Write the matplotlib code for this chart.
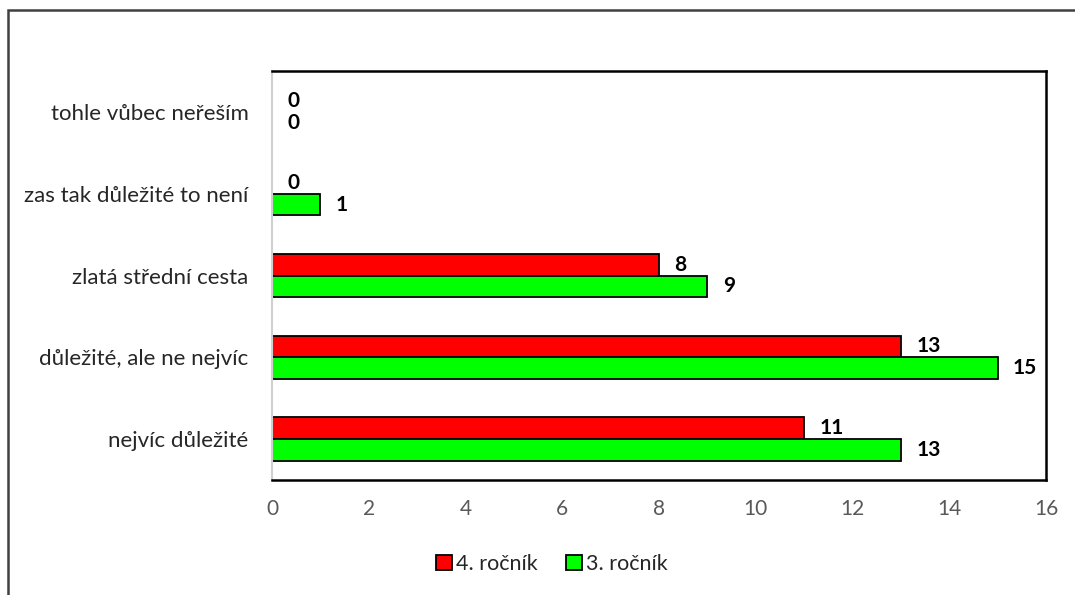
import matplotlib.pyplot as plt
from matplotlib.patches import Rectangle
import numpy as np

categories = ['nejvíc důležité', 'důležité, ale ne nejvíc', 'zlatá střední cesta',
              'zas tak důležité to není', 'tohle vůbec neřeším']
rocnik4 = [11, 13, 8, 0, 0]
rocnik3 = [13, 15, 9, 1, 0]
xticks = [0, 2, 4, 6, 8, 10, 12, 14, 16]

plt.rcParams['font.family'] = ['Lato', 'DejaVu Sans']

fig = plt.figure(figsize=(10.75, 5.95), dpi=100)
ax = fig.add_axes([272/1075, 1 - 480/595, (1046 - 272)/1075, (480 - 71)/595])

y = np.arange(len(categories))
h = 0.265
b4 = ax.barh(y + h/2, rocnik4, height=h, color='#FF0000', edgecolor='black', linewidth=1.3,
             label='4. ročník')
b3 = ax.barh(y - h/2, rocnik3, height=h, color='#00FF00', edgecolor='black', linewidth=1.3,
             label='3. ročník')

# value labels next to each bar end
for bars, vals in ((b4, rocnik4), (b3, rocnik3)):
    for bar, v in zip(bars, vals):
        ax.annotate(str(v), (v, bar.get_y() + bar.get_height()/2), xytext=(11, 0),
                    textcoords='offset points', ha='left', va='center',
                    fontsize=15, fontweight='bold', color='black')

ax.set_xlim(0, 16)
ax.set_ylim(-0.5, len(categories) - 0.5)
ax.set_xticks(xticks)
ax.set_yticks(y)
ax.set_yticklabels(categories, fontsize=16, color='#262626')
ax.tick_params(axis='x', length=0, labelsize=15, labelcolor='#595959', pad=14)
ax.tick_params(axis='y', length=0, pad=17)

for s in ('top', 'right', 'bottom'):
    ax.spines[s].set_color('black')
    ax.spines[s].set_linewidth(1.8)
ax.spines['left'].set_color('#D0D0D0')
ax.spines['left'].set_linewidth(1.5)

leg = fig.legend(handles=[b4, b3], loc='center', bbox_to_anchor=(552/1075, 1 - 564/595),
                 ncol=2, frameon=False, fontsize=15.5, handlelength=0.75, handleheight=0.75,
                 handletextpad=0.2, columnspacing=1.3)
for txt in leg.get_texts():
    txt.set_color('#262626')

# chart border
fig.patches.append(Rectangle((8/1075, -0.05), 1.1, 1 - 10/595 + 0.05,
                             transform=fig.transFigure, fill=False,
                             edgecolor='#404040', linewidth=1.8))

fig.savefig('out.png', dpi=100)
